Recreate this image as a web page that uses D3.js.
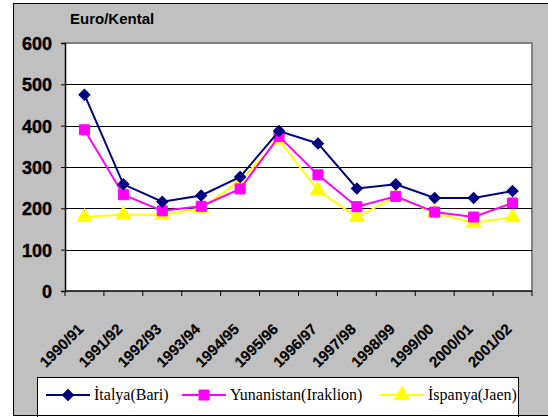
<!DOCTYPE html>
<html>
<head>
<meta charset="utf-8">
<script src="https://cdn.jsdelivr.net/npm/d3@7/dist/d3.min.js"></script>
<style>
  body { margin: 0; background: #fff; }
  #viz { width: 548px; height: 417px; }
  .ylab { font: bold 18px "Liberation Sans", Arial, sans-serif; fill: #000; stroke: #000; stroke-width: 0.4px; }
  .xlab { font: bold 15px "Liberation Sans", Arial, sans-serif; fill: #000; stroke: #000; stroke-width: 0.2px; }
  .legtext { font: 16px "Liberation Serif", "Times New Roman", serif; fill: #000; }
</style>
</head>
<body>
<div id="viz"></div>
<script>
var seasons = ["1990/91", "1991/92", "1992/93", "1993/94", "1994/95", "1995/96",
  "1996/97", "1997/98", "1998/99", "1999/00", "2000/01", "2001/02"];
var italya = [475, 258, 216, 231, 276, 387, 357, 248, 258, 225, 225, 242];
var yunanistan = [390, 233, 194, 205, 247, 374, 281, 204, 229, 191, 179, 213];
var ispanya = [179, 185, 184, 200, 267, 366, 243, 179, 228, 189, 165, 178];
var seriesNames = ["İtalya(Bari)", "Yunanistan(Iraklion)", "İspanya(Jaen)"];
var seriesColors = ["#000080", "#ff00ff", "#ffff00"];
var yTicks = [0, 100, 200, 300, 400, 500, 600];
var unitLabel = "Euro/Kental";

var margin = { top: 43, right: 16, bottom: 126, left: 65 };
var W = 548, H = 417;
var _width = W - margin.left - margin.right,
  _height = H - margin.top - margin.bottom;

var svg = d3.select('#viz').append('svg')
  .attr('width', W)
  .attr('height', H);

// gray chart background with border
svg.append('rect')
  .attr('x', 13.5).attr('y', 3.5)
  .attr('width', 545).attr('height', 412)
  .attr('fill', '#c0c0c0')
  .attr('stroke', '#000')
  .attr('stroke-width', 1);

var x = d3.scaleBand().domain(seasons).range([0, _width]);
var y = d3.scaleLinear().domain([0, 600]).range([_height, 0]);

var chart = svg.append('g')
  .attr('transform', 'translate(' + margin.left + ',' + margin.top + ')');

chart.append('rect')
  .attr('width', _width).attr('height', _height)
  .attr('fill', '#fff');

// plot border (top / right)
chart.append('path')
  .attr('d', 'M0,0H' + _width + 'V' + _height)
  .attr('fill', 'none')
  .attr('stroke', '#808080')
  .attr('stroke-width', 2);

// gridlines
chart.selectAll('.grid').data(yTicks.filter(function (d) { return d > 0 && d < 600; }))
  .enter().append('line')
  .attr('class', 'grid')
  .attr('x1', 0).attr('x2', _width)
  .attr('y1', function (d) { return Math.round(y(d)) + 0.5; })
  .attr('y2', function (d) { return Math.round(y(d)) + 0.5; })
  .attr('stroke', '#000')
  .attr('stroke-width', 1);

// y axis
var yAxis = chart.append('g')
  .call(d3.axisLeft(y).tickValues(yTicks).tickSize(4).tickPadding(9));
yAxis.select('.domain').attr('stroke', '#000').attr('stroke-width', 1.5);
yAxis.selectAll('.tick line').attr('stroke', '#000');
yAxis.selectAll('text').attr('class', 'ylab').attr('dy', '0.36em');

// x axis with ticks at category boundaries
var xg = chart.append('g').attr('transform', 'translate(0,' + _height + ')');
xg.append('line')
  .attr('x1', 0).attr('x2', _width)
  .attr('stroke', '#000').attr('stroke-width', 1.5);
var bounds = seasons.map(function (s) { return x(s); }).concat([_width]);
xg.selectAll('.xt').data(bounds).enter().append('line')
  .attr('x1', function (d) { return d; }).attr('x2', function (d) { return d; })
  .attr('y1', 0).attr('y2', 5)
  .attr('stroke', '#000');
xg.selectAll('.xlab').data(seasons).enter().append('text')
  .attr('class', 'xlab')
  .attr('text-anchor', 'end')
  .attr('transform', function (d) {
    return 'translate(' + (x(d) + x.bandwidth() / 2) + ',39) rotate(-45)';
  })
  .text(function (d) { return d; });

// unit label
svg.append('text')
  .attr('x', 70).attr('y', 24)
  .style('font', 'bold 15px "Liberation Sans", Arial, sans-serif')
  .text(unitLabel);

// markers: diamond is a square turned 45 degrees
var symbols = [d3.symbolSquare, d3.symbolSquare, d3.symbolTriangle];
var symSizes = [62, 100, 95];
var symRot = [45, 0, 0];
function marker(sel, i) {
  sel.attr('d', d3.symbol().type(symbols[i]).size(symSizes[i])())
    .attr('fill', seriesColors[i])
    .attr('stroke', seriesColors[i])
    .attr('stroke-width', 1);
}

var allSeries = [italya, yunanistan, ispanya];
var line = d3.line()
  .x(function (d, i) { return x(seasons[i]) + x.bandwidth() / 2; })
  .y(function (d) { return y(d); });

// draw in reverse so italya sits on top
[2, 1, 0].forEach(function (k) {
  var g = chart.append('g');
  g.append('path')
    .attr('d', line(allSeries[k]))
    .attr('fill', 'none')
    .attr('stroke', seriesColors[k])
    .attr('stroke-width', 2);
  g.selectAll('path.m').data(allSeries[k]).enter().append('path')
    .attr('class', 'm')
    .attr('transform', function (d, i) {
      return 'translate(' + (x(seasons[i]) + x.bandwidth() / 2) + ',' + y(d) + ') rotate(' + symRot[k] + ')';
    })
    .call(marker, k);
});

// legend
var legend = svg.append('g');
legend.append('rect')
  .attr('x', 37.5).attr('y', 377.5)
  .attr('width', 481).attr('height', 45)
  .attr('fill', '#fff')
  .attr('stroke', '#000');
var legX = [46, 182, 380];
seriesNames.forEach(function (name, i) {
  var item = legend.append('g').attr('transform', 'translate(' + legX[i] + ',395)');
  item.append('line')
    .attr('x1', 0).attr('x2', 44)
    .attr('stroke', seriesColors[i]).attr('stroke-width', 2);
  item.append('path').attr('transform', 'translate(22,0) rotate(' + symRot[i] + ')').call(marker, i);
  item.append('text')
    .attr('class', 'legtext')
    .attr('x', 48).attr('dy', '0.33em')
    .text(name);
});
// bottom border of gray area
svg.append('line')
  .attr('x1', 13).attr('x2', 548)
  .attr('y1', 415.5).attr('y2', 415.5)
  .attr('stroke', '#000');
</script>
</body>
</html>
